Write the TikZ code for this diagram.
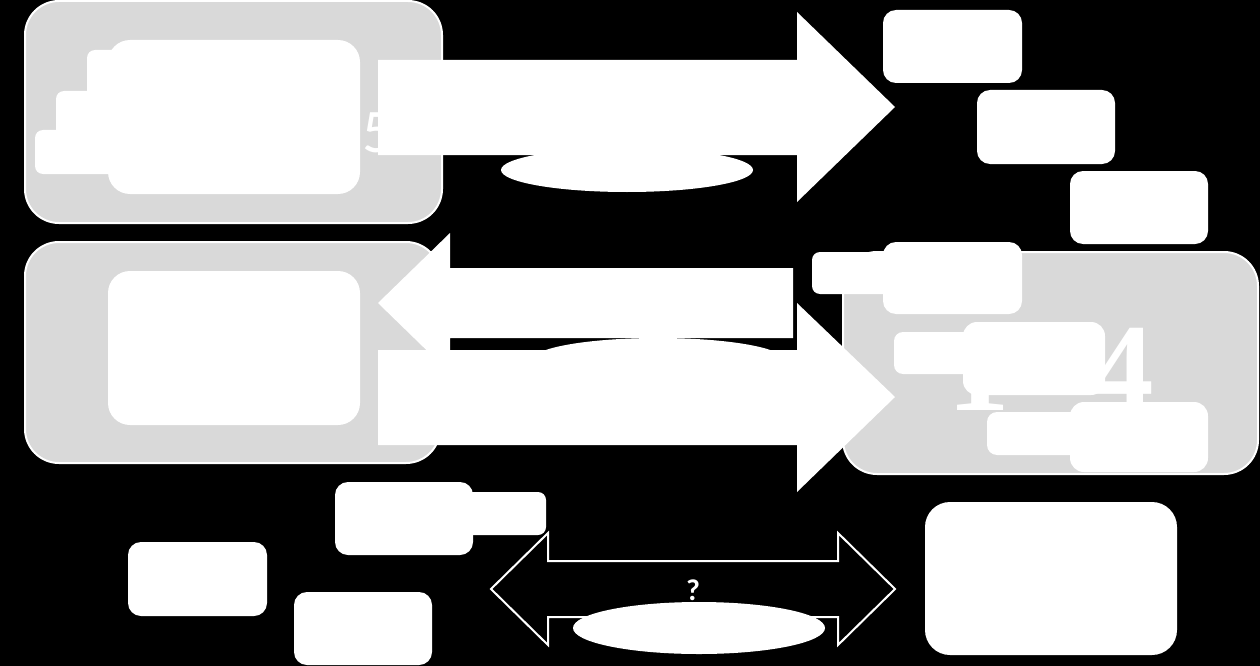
\documentclass[tikz,border=0pt]{standalone}
\usepackage{fontspec}
\usetikzlibrary{shapes.geometric}
\setmainfont{Carlito}
\newfontfamily\digitfont{Liberation Serif Bold}
\definecolor{panelgray}{HTML}{D9D9D9}
\begin{document}
\begin{tikzpicture}[x=1pt,y=-1pt,
  panel/.style={draw=white,line width=2pt,fill=panelgray,rounded corners=34pt},
  wbox/.style={fill=white,inner sep=0pt,rounded corners=#1},
  wbox/.default=13pt,
  blockarrow/.style={fill=white},
  outlinearrow/.style={draw=white,line width=2pt,fill=black,line join=miter},
  wellipse/.style={fill=white,ellipse,inner sep=0pt},
  wtext/.style={text=white,inner sep=0pt}]
\fill[black] (0,0) rectangle (1260,666);
\useasboundingbox (0,0) rectangle (1260,666);

% gray panels
\draw[panel] (25,1) rectangle (442,223);
\draw[panel] (25,242) rectangle (440,463);
\draw[panel] (843,252) rectangle (1258,474);

% top-left panel content
\node[wbox=8pt,minimum width=113pt,minimum height=50pt] (tlA) at (143.5,75) {};
\node[wbox=8pt,minimum width=144pt,minimum height=49pt] (tlB) at (128,115.5) {};
\node[wbox=8pt,minimum width=165pt,minimum height=44pt] (tlC) at (117.5,152) {};
\node[wbox=22pt,minimum width=252pt,minimum height=154pt] (tlbig) at (234,117) {};
\node[wtext,anchor=base west,font=\fontsize{62}{62}\selectfont] (five) at (362,153) {5};

% mid-left panel content
\node[wbox=22pt,minimum width=252pt,minimum height=154pt] (mlbig) at (234,348) {};

% block arrows and ellipses
\fill[blockarrow] (378,60) -- (797,60) -- (797,12) -- (895,107) -- (797,202) -- (797,155) -- (378,155) -- cycle;
\node[wellipse,minimum width=252pt,minimum height=44pt] (ell1) at (627,170) {};
\fill[blockarrow] (378,303) -- (450,233) -- (450,268) -- (793,268) -- (793,338) -- (450,338) -- (450,373) -- cycle;
\node[wellipse,minimum width=252pt,minimum height=44pt] (ell2) at (658,360) {};
\fill[blockarrow] (378,350) -- (797,350) -- (797,303) -- (895,397) -- (797,492) -- (797,445) -- (378,445) -- cycle;

% top-right boxes
\node[wbox,minimum width=139pt,minimum height=73pt] (tr1) at (952.5,46.5) {};
\node[wbox,minimum width=138pt,minimum height=74pt] (tr2) at (1046,127) {};
\node[wbox,minimum width=138pt,minimum height=73pt] (tr3) at (1139,207.5) {};
\node[wbox,minimum width=139pt,minimum height=72pt] (tr4) at (952.5,278) {};
\node[wbox=8pt,minimum width=88pt,minimum height=42pt] (tr4b) at (856,273) {};

% right panel content
\node[wtext,anchor=base west,font=\digitfont\fontsize{125}{125}\selectfont] (one) at (947,410) {1};
\node[wtext,anchor=base west,font=\digitfont\fontsize{125}{125}\selectfont] (four) at (1091,410) {4};
\node[wbox=9pt,minimum width=116pt,minimum height=42pt] (r1) at (952,353) {};
\node[wbox=14pt,minimum width=142pt,minimum height=73pt] (rblob) at (1034,358.5) {};
\node[wbox=10pt,minimum width=103pt,minimum height=43pt] (r2) at (1038.5,433.5) {};
\node[wbox=14pt,minimum width=138pt,minimum height=70pt] (r3) at (1139,437) {};

% bottom boxes
\node[wbox,minimum width=138pt,minimum height=73pt] (ba) at (404,518.5) {};
\node[wbox=8pt,minimum width=86pt,minimum height=43pt] (ba2) at (503,513.5) {};
\node[wbox,minimum width=139pt,minimum height=74pt] (bb) at (197.5,579) {};
\node[wbox,minimum width=138pt,minimum height=73pt] (bc) at (363,628.5) {};
\node[wbox=25pt,minimum width=252pt,minimum height=153pt] (br) at (1051,578.5) {};

% outlined double arrow
\draw[outlinearrow] (491,589) -- (548,533) -- (548,561) -- (838,561) -- (838,533) -- (895,589) -- (838,645) -- (838,617) -- (548,617) -- (548,645) -- cycle;
\node[wtext,anchor=base,font=\bfseries\fontsize{30}{30}\selectfont] (q) at (693,600) {?};
\node[wellipse,minimum width=252pt,minimum height=52pt] (ell3) at (699,628) {};
\end{tikzpicture}
\end{document}
